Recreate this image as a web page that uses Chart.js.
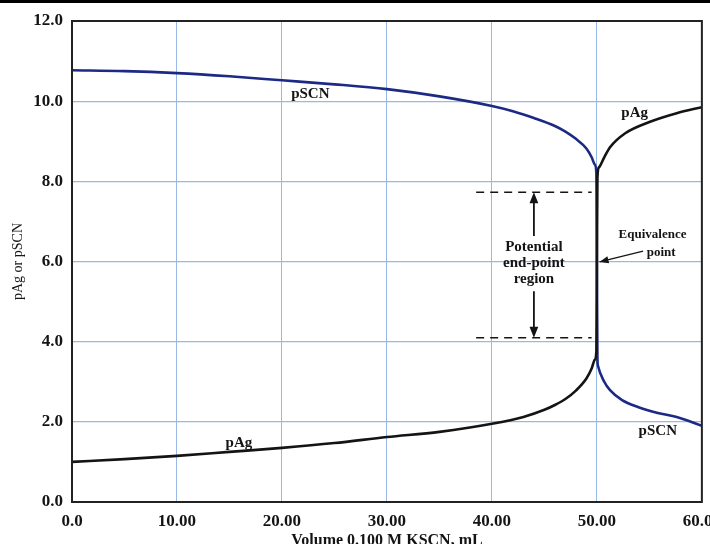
<!DOCTYPE html>
<html lang="en">
  <head>
    <meta charset="UTF-8" />
    <title>pAg / pSCN titration curve</title>
    <script src="https://cdn.jsdelivr.net/npm/chart.js/dist/chart.umd.min.js"></script>
    <style>
      body {
        margin: 0;
        overflow: hidden;
        background: #fff;
      }
      .topbar {
        position: absolute;
        left: 0;
        top: 0;
        width: 710px;
        height: 3px;
        background: #000;
        z-index: 2;
      }
      .chart-box {
        position: absolute;
        left: 0;
        top: 0;
        width: 730px;
        height: 552px;
      }
    </style>
  </head>
  <body>
    <div class="topbar"></div>
    <div class="chart-box">
      <canvas id="titrationChart"></canvas>
    </div>

    <script>
      // values (mL of KSCN, p-function)
      const pscnVolume = [0, 5, 10, 15, 20, 25, 30, 35, 40, 42, 44, 46, 47, 48, 49, 49.5, 49.8, 49.95, 50, 50.05, 50.1, 50.7, 51.25, 52.4, 53.9, 55.8, 57.6, 60];
      const pscnValues = [10.77, 10.75, 10.7, 10.62, 10.52, 10.42, 10.3, 10.12, 9.88, 9.75, 9.58, 9.38, 9.24, 9.06, 8.82, 8.6, 8.42, 8.2, 5.9, 3.6, 3.4, 3.0, 2.79, 2.54, 2.37, 2.22, 2.12, 1.9];

      const pagVolume = [0, 5, 10, 15, 20, 25, 30, 35, 40, 43, 45, 46, 47, 48, 49, 49.5, 49.8, 49.95, 50, 50.05, 50.2, 50.7, 51.25, 52.7, 55, 57.6, 60];
      const pagValues = [1.0, 1.07, 1.15, 1.25, 1.35, 1.47, 1.62, 1.75, 1.95, 2.12, 2.3, 2.42, 2.57, 2.78, 3.08, 3.33, 3.55, 3.75, 5.9, 8.1, 8.35, 8.6, 8.85, 9.2, 9.48, 9.7, 9.85];

      const xTicks = [0, 10, 20, 30, 40, 50, 60];
      const yTicks = [0, 2, 4, 6, 8, 10, 12];

      // annotations: [x, y, text]
      const curveLabels = [
        [22.7, 10.17, "pSCN"],
        [53.6, 9.7, "pAg"],
        [15.9, 1.47, "pAg"],
        [55.8, 1.77, "pSCN"],
      ];
      const endPointLimits = [7.73, 4.1];
      const endPointRange = [38.5, 49.5];
      const endPointArrowX = 44;
      const endPointText = ["Potential", "end-point", "region"];
      const endPointTextY = [6.36, 5.96, 5.56];
      const equivText = [[55.3, 6.66, "Equivalence"], [57.5, 6.23, "point"]];
      const equivArrow = [[54.4, 6.26], [50.25, 5.99]];

      const serif = "'Liberation Serif', 'DejaVu Serif', serif";
      const ink = "#141414";
      const navy = "#1c2a86";
      const gridBlue = "#98b8e6";

      function arrowHead(ctx, x, y, dx, dy, size) {
        const len = Math.hypot(dx, dy);
        const ux = dx / len, uy = dy / len;
        ctx.beginPath();
        ctx.moveTo(x, y);
        ctx.lineTo(x - ux * size - uy * size * 0.4, y - uy * size + ux * size * 0.4);
        ctx.lineTo(x - ux * size + uy * size * 0.4, y - uy * size - ux * size * 0.4);
        ctx.closePath();
        ctx.fill();
      }

      const notes = {
        id: "notes",
        afterDatasetsDraw(chart) {
          const { ctx, chartArea } = chart;
          const sx = chart.scales.x, sy = chart.scales.y;
          const px = (v) => sx.getPixelForValue(v);
          const py = (v) => sy.getPixelForValue(v);
          ctx.save();

          // frame
          ctx.strokeStyle = "#222";
          ctx.lineWidth = 2;
          ctx.strokeRect(chartArea.left, chartArea.top, chartArea.right - chartArea.left, chartArea.bottom - chartArea.top);

          ctx.fillStyle = ink;
          ctx.textAlign = "center";
          ctx.textBaseline = "middle";
          ctx.font = "bold 15px " + serif;
          curveLabels.forEach(([x, y, t]) => ctx.fillText(t, px(x), py(y)));

          // dashed limits of the end-point region
          ctx.strokeStyle = ink;
          ctx.lineWidth = 1.5;
          ctx.setLineDash([8, 6]);
          endPointLimits.forEach((y) => {
            ctx.beginPath();
            ctx.moveTo(px(endPointRange[0]), py(y));
            ctx.lineTo(px(endPointRange[1]), py(y));
            ctx.stroke();
          });
          ctx.setLineDash([]);

          const ax = px(endPointArrowX);
          const topText = py(endPointTextY[0]) - 11;
          const botText = py(endPointTextY[2]) + 12;
          ctx.lineWidth = 1.8;
          ctx.beginPath();
          ctx.moveTo(ax, topText);
          ctx.lineTo(ax, py(endPointLimits[0]) + 4);
          ctx.moveTo(ax, botText);
          ctx.lineTo(ax, py(endPointLimits[1]) - 4);
          ctx.stroke();
          arrowHead(ctx, ax, py(endPointLimits[0]), 0, -1, 11);
          arrowHead(ctx, ax, py(endPointLimits[1]), 0, 1, 11);

          ctx.font = "bold 15px " + serif;
          endPointText.forEach((t, i) => ctx.fillText(t, ax, py(endPointTextY[i])));

          ctx.font = "bold 13px " + serif;
          ctx.fillText(equivText[0][2], px(equivText[0][0]), py(equivText[0][1]));
          ctx.textAlign = "right";
          ctx.fillText(equivText[1][2], px(equivText[1][0]), py(equivText[1][1]));

          const [a0, a1] = equivArrow;
          ctx.lineWidth = 1.3;
          ctx.beginPath();
          ctx.moveTo(px(a0[0]), py(a0[1]));
          ctx.lineTo(px(a1[0]), py(a1[1]));
          ctx.stroke();
          arrowHead(ctx, px(a1[0]), py(a1[1]), px(a1[0]) - px(a0[0]), py(a1[1]) - py(a0[1]), 9);

          ctx.restore();
        },
      };

      const toPoints = (xs, ys) => xs.map((x, i) => ({ x: x, y: ys[i] }));

      new Chart(document.getElementById("titrationChart"), {
        type: "line",
        data: {
          datasets: [
            {
              label: "pSCN",
              data: toPoints(pscnVolume, pscnValues),
              borderColor: navy,
              borderWidth: 2.6,
              pointRadius: 0,
              cubicInterpolationMode: "monotone",
              order: 2,
            },
            {
              label: "pAg",
              data: toPoints(pagVolume, pagValues),
              borderColor: ink,
              borderWidth: 2.6,
              pointRadius: 0,
              cubicInterpolationMode: "monotone",
              order: 1,
            },
          ],
        },
        options: {
          responsive: true,
          maintainAspectRatio: false,
          animation: false,
          layout: { padding: { top: 21, right: 26, left: 0, bottom: 0 } },
          plugins: {
            legend: { display: false },
            tooltip: { enabled: false },
          },
          scales: {
            x: {
              type: "linear",
              min: 0,
              max: 60,
              afterFit: (s) => { s.height = 50; },
              afterBuildTicks: (s) => { s.ticks = xTicks.map((v) => ({ value: v })); },
              grid: { color: gridBlue, lineWidth: 1, drawTicks: false },
              border: { display: true, color: "#111", width: 2 },
              ticks: {
                padding: 9,
                color: ink,
                font: { family: serif, size: 17, weight: "bold" },
                callback: (v) => (v === 0 ? "0.0" : v.toFixed(2)),
              },
              title: {
                display: true,
                text: "Volume 0.100 M KSCN, mL",
                color: ink,
                padding: { top: 0, bottom: 2 },
                font: { family: serif, size: 16, weight: "bold" },
              },
            },
            y: {
              min: 0,
              max: 12,
              afterFit: (s) => { s.width = 72; },
              afterBuildTicks: (s) => { s.ticks = yTicks.map((v) => ({ value: v })); },
              grid: { color: gridBlue, lineWidth: 1.3, drawTicks: false },
              border: { display: true, color: "#111", width: 2 },
              ticks: {
                padding: 9,
                color: ink,
                font: { family: serif, size: 17, weight: "bold" },
                callback: (v) => v.toFixed(1),
              },
              title: {
                display: true,
                text: "pAg or pSCN",
                color: ink,
                padding: { top: 10, bottom: 0 },
                font: { family: serif, size: 14 },
              },
            },
          },
        },
        plugins: [notes],
      });
    </script>
  </body>
</html>
